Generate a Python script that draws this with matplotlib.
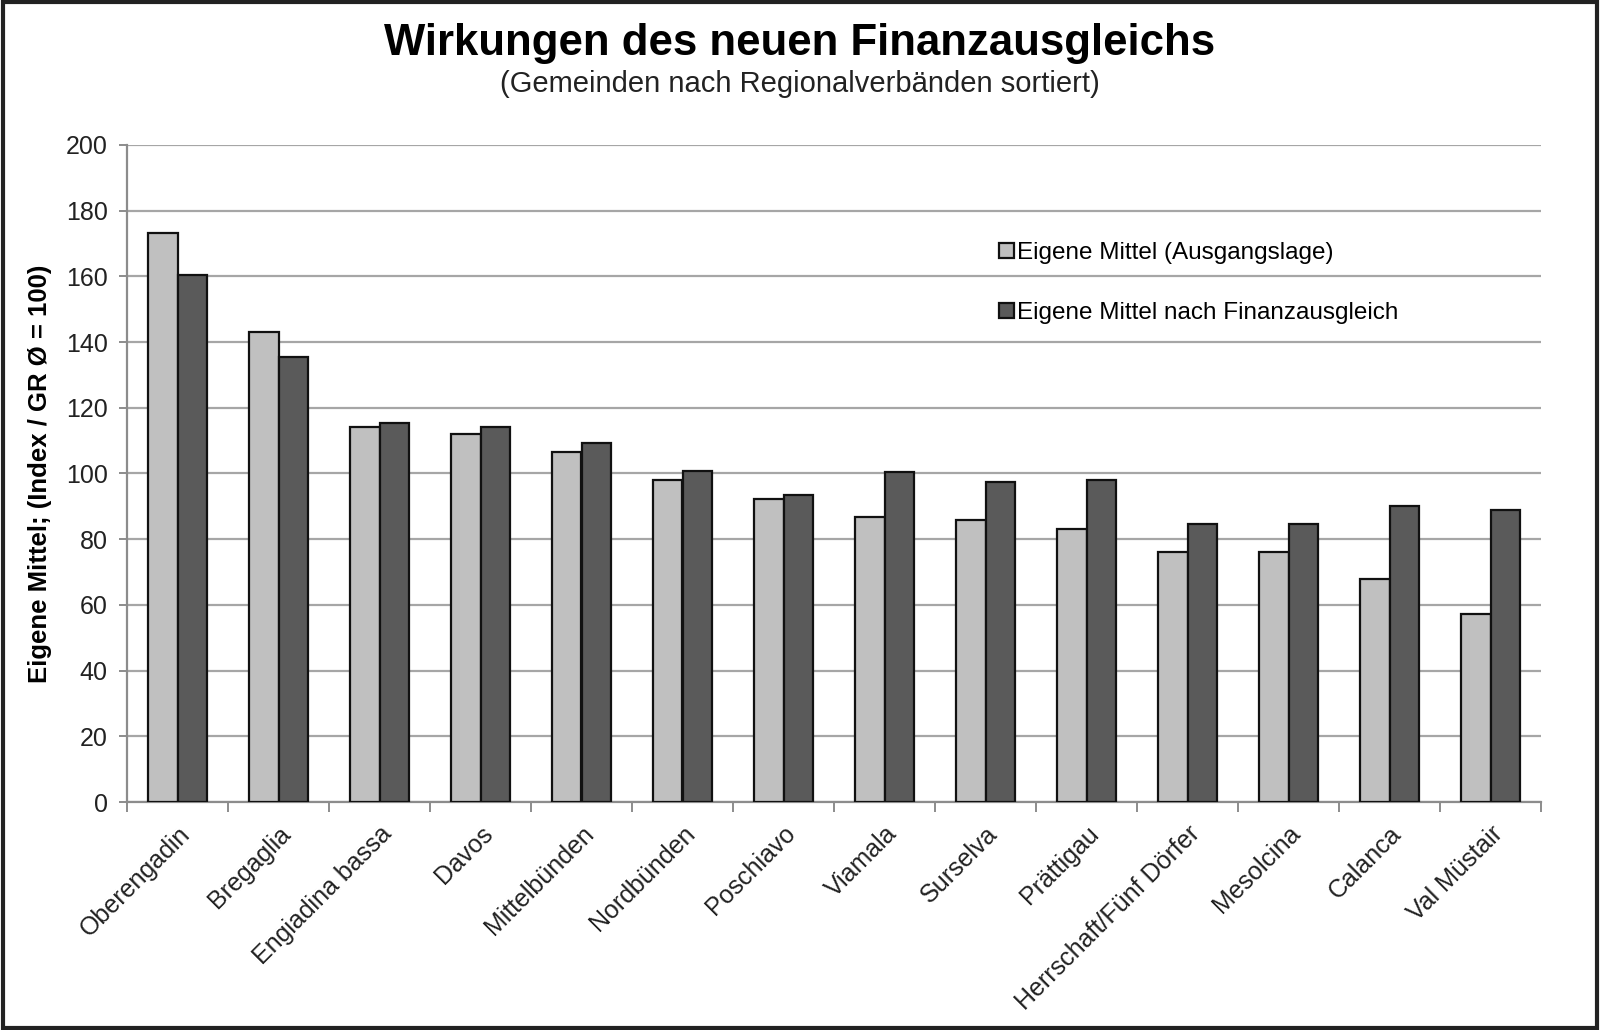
import matplotlib
matplotlib.use("Agg")
import matplotlib.pyplot as plt
import numpy as np
from matplotlib.patches import Rectangle

# --- Daten ---
regionen = ["Oberengadin", "Bregaglia", "Engiadina bassa", "Davos", "Mittelbünden",
            "Nordbünden", "Poschiavo", "Viamala", "Surselva", "Prättigau",
            "Herrschaft/Fünf Dörfer", "Mesolcina", "Calanca", "Val Müstair"]
ausgangslage = [173.1, 143.2, 114.1, 111.9, 106.5, 98.0, 92.3, 86.7, 85.8, 83.0,
                76.2, 76.2, 67.8, 57.2]
nach_fa = [160.4, 135.4, 115.3, 114.1, 109.2, 100.8, 93.4, 100.4, 97.4, 97.9,
           84.6, 84.6, 90.1, 89.0]
serien = ["Eigene Mittel (Ausgangslage)", "Eigene Mittel nach Finanzausgleich"]

plt.rcParams['font.family'] = ['Liberation Sans', 'DejaVu Sans']

fig = plt.figure(figsize=(16, 10.3), dpi=100)
ax = fig.add_axes([127 / 1600, 1 - 802 / 1030, (1541 - 127) / 1600, (802 - 145) / 1030])

x = np.arange(len(regionen))
w = 0.295
ax.bar(x - w / 2, ausgangslage, w, color='#c0c0c0', edgecolor='#111111', linewidth=1.6,
       label=serien[0], zorder=3)
ax.bar(x + w / 2, nach_fa, w, color='#5a5a5a', edgecolor='#111111', linewidth=1.6,
       label=serien[1], zorder=3)

ax.set_xlim(-0.5, len(regionen) - 0.5)
ax.set_ylim(0, 200)
ax.set_yticks(np.arange(0, 201, 20))
ax.yaxis.grid(True, color='#a6a6a6', linewidth=1.6, zorder=0)

for s in ['top', 'right']:
    ax.spines[s].set_visible(False)
for s in ['left', 'bottom']:
    ax.spines[s].set_color('#8c8c8c')
    ax.spines[s].set_linewidth(1.6)

ax.tick_params(axis='y', length=6, width=1.4, color='#8c8c8c', labelsize=18, pad=8,
               labelcolor='#222222')
ax.set_xticks(x)
ax.set_xticklabels(regionen, rotation=45, ha='right', rotation_mode='anchor', fontsize=18,
                   color='#222222')
ax.tick_params(axis='x', length=0, pad=14)
ax.set_xticks(np.arange(-0.5, len(regionen), 1), minor=True)
ax.tick_params(axis='x', which='minor', length=7, width=1.4, color='#8c8c8c', direction='out')

ax.set_ylabel("Eigene Mittel; (Index / GR Ø = 100)", fontsize=18.5, fontweight='bold')
ax.yaxis.set_label_coords(-(127 - 52) / 1414, 0.5)

fig.text(0.5, 1 - 43 / 1030, "Wirkungen des neuen Finanzausgleichs", ha='center', va='center',
         fontsize=31.5, fontweight='bold')
fig.text(0.5, 1 - 84 / 1030, "(Gemeinden nach Regionalverbänden sortiert)", ha='center',
         va='center', fontsize=21, color='#222222')

ax.legend(loc='center left', bbox_to_anchor=(999 / 1600, 1 - 283 / 1030),
          bbox_transform=fig.transFigure, frameon=False, fontsize=17.5,
          handlelength=0.6, handleheight=0.6, handletextpad=0.15,
          labelspacing=1.55, borderpad=0, borderaxespad=0)

fig.patches.append(Rectangle((0.002, 0.002), 0.996, 0.996, transform=fig.transFigure,
                             fill=False, edgecolor='#222222', linewidth=3))

fig.savefig("out.png", dpi=100)
